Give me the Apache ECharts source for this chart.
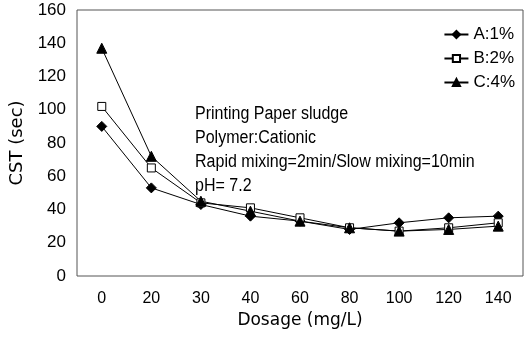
<!DOCTYPE html>
<html><head><meta charset="utf-8">
<script src="https://cdn.jsdelivr.net/npm/echarts@6/dist/echarts.min.js"></script>
<style>html,body{margin:0;padding:0;background:#fff}#c{width:532px;height:340px}</style>
</head><body><div id="c"></div>
<script>
const categories = ['0','20','30','40','60','80','100','120','140'];
const seriesA = [90, 53, 43, 36, 33, 28, 32, 35, 36];
const seriesB = [102, 65, 44, 41, 35, 29, 27, 29, 32];
const seriesC = [137, 72, 45, 39, 33, 29, 27, 28, 30];
const names = ['A:1%', 'B:2%', 'C:4%'];
const notes = ['Printing Paper sludge', 'Polymer:Cationic', 'Rapid mixing=2min/Slow mixing=10min', 'pH= 7.2'];
const FONT = '"Liberation Sans", Arial, sans-serif';
const FONT2 = '"DejaVu Sans", sans-serif';

const chart = echarts.init(document.getElementById('c'));
function mk(name, data, symbol, fill) {
  return {
    name, type: 'line', data, symbol, symbolSize: symbol === 'rect' ? 8 : 10,
    lineStyle: { color: '#000', width: 1 },
    itemStyle: { color: fill, borderColor: '#000', borderWidth: 1 },
    emphasis: { disabled: true }, animation: false
  };
}
chart.setOption({
  animation: false,
  backgroundColor: '#fff',
  grid: { left: 77, right: 9, top: 10, bottom: 64, show: true, borderColor: '#555', borderWidth: 1 },
  legend: {
    orient: 'vertical', right: 12, top: 21, itemWidth: 24, itemHeight: 9, itemGap: 7,
    textStyle: { fontFamily: FONT, fontSize: 17, color: '#000' },
    data: names
  },
  xAxis: {
    type: 'category', data: categories, boundaryGap: true,
    name: 'Dosage (mg/L)', nameLocation: 'middle', nameGap: 34,
    nameTextStyle: { fontFamily: FONT2, fontSize: 17, color: '#000' },
    axisLine: { show: false }, axisTick: { show: false },
    axisLabel: { fontFamily: FONT, fontSize: 16, color: '#000', margin: 15 }
  },
  yAxis: {
    type: 'value', min: 0, max: 160, interval: 20,
    name: 'CST (sec)', nameLocation: 'middle', nameGap: 45, nameRotate: 90,
    nameTextStyle: { fontFamily: FONT2, fontSize: 18, color: '#000' },
    splitLine: { show: false }, axisLine: { show: false }, axisTick: { show: false },
    axisLabel: { fontFamily: FONT, fontSize: 17, color: '#000', margin: 11 }
  },
  graphic: notes.map((t, i) => ({
    type: 'text', x: 195, y: 105 + i * 24, scaleX: 0.89,
    style: { text: t, fontFamily: FONT, fontSize: 18, fill: '#000' }
  })),
  series: [
    mk(names[0], seriesA, 'diamond', '#000'),
    mk(names[1], seriesB, 'rect', '#fff'),
    mk(names[2], seriesC, 'triangle', '#000')
  ]
});
</script></body></html>
